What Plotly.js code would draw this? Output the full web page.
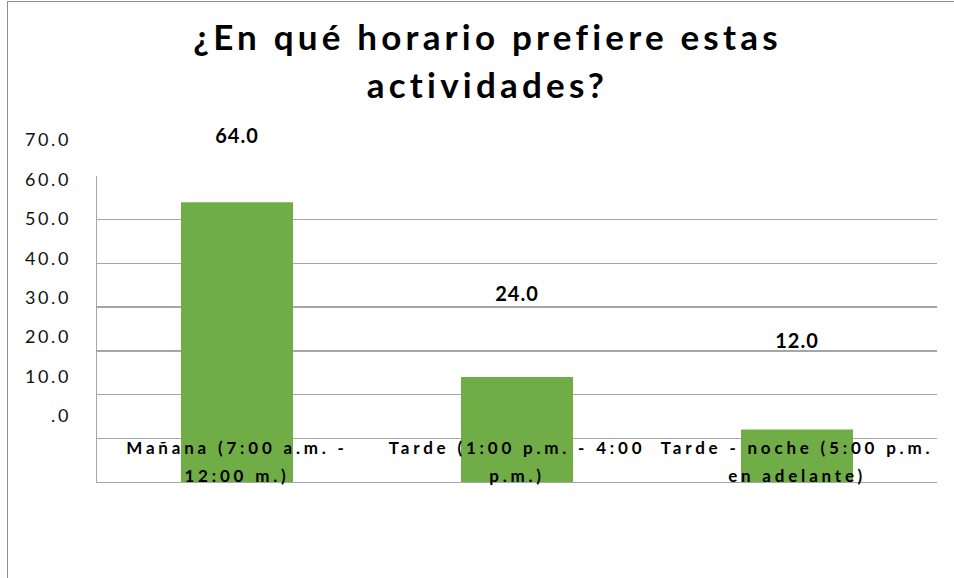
<!DOCTYPE html>
<html>
<head>
<meta charset="utf-8">
<script src="https://cdn.plot.ly/plotly-3.0.1.min.js"></script>
<style>
  html, body { margin: 0; padding: 0; background: #fff; }
  #wrap { position: relative; width: 954px; height: 578px; overflow: hidden; }
  #frame { position: absolute; left: 7px; top: 1px; width: 1000px; height: 700px;
           border-left: 1px solid #8f8f8f; border-top: 1px solid #8f8f8f; pointer-events: none; }
  #chart .gtitle { letter-spacing: 4.2px; }
  #chart .xtick text { letter-spacing: 3.8px; }
  #chart .y2tick text { letter-spacing: 2.6px; }
  #chart .textpoint text { letter-spacing: 1px; }
</style>
</head>
<body>
<div id="wrap">
  <div id="chart" style="width:954px;height:578px;"></div>
  <div id="frame"></div>
</div>
<script>
// ---- data ----
const categories = [
  "Mañana (7:00 a.m. - 12:00 m.)",
  "Tarde (1:00 p.m. - 4:00 p.m.)",
  "Tarde - noche (5:00 p.m. en adelante)"
];
const categoryLabels = [
  "Mañana (7:00 a.m. -<br>12:00 m.)",
  "Tarde (1:00 p.m. - 4:00<br>p.m.)",
  "Tarde - noche (5:00 p.m.<br>en adelante)"
];
const values = [64.0, 24.0, 12.0];
const tickValues = [0, 10, 20, 30, 40, 50, 60, 70];
const tickLabels = [".0", "10.0", "20.0", "30.0", "40.0", "50.0", "60.0", "70.0"];
const titleText = "¿En qué horario prefiere estas<br>actividades?";

const FONT = "Lato, 'Open Sans', 'DejaVu Sans', sans-serif";

const traces = [
  {
    type: "bar",
    x: categories,
    y: values,
    xaxis: "x", yaxis: "y",
    marker: { color: "#70AD47" },
    hoverinfo: "skip"
  },
  {
    type: "scatter",
    mode: "markers",
    x: categories,
    y: values,
    xaxis: "x", yaxis: "y2",
    marker: { opacity: 0, size: 1 },
    hoverinfo: "skip",
    showlegend: false
  },
  {
    type: "scatter",
    mode: "text",
    x: categories,
    y: values,
    xaxis: "x", yaxis: "y3",
    text: values.map(v => v.toFixed(1)),
    textposition: "middle center",
    textfont: { family: FONT, size: 20, color: "#000", weight: "bold" },
    cliponaxis: false,
    hoverinfo: "skip",
    showlegend: false
  }
];

const layout = {
  width: 954, height: 578,
  margin: { l: 97, r: 17, t: 130, b: 96 },
  paper_bgcolor: "rgba(0,0,0,0)",
  plot_bgcolor: "rgba(0,0,0,0)",
  showlegend: false,
  bargap: 0.6,
  title: {
    text: titleText,
    font: { family: FONT, size: 35, color: "#000", weight: "bold" },
    x: 0.511, xanchor: "center",
    y: 1 - 50 / 578, yref: "container", yanchor: "top"
  },
  xaxis: {
    type: "category",
    domain: [0, 1],
    tickvals: categories,
    ticktext: categoryLabels,
    tickfont: { family: FONT, size: 17, color: "#000", weight: "bold" },
    ticks: "",
    ticklabelstandoff: -50,
    showgrid: false,
    zeroline: false,
    showline: true,
    linecolor: "#a6a6a6",
    linewidth: 1.3,
    fixedrange: true
  },
  yaxis: {
    domain: [0, 306 / 352],
    range: [0, 70],
    dtick: 10,
    showticklabels: false,
    ticks: "",
    showgrid: true,
    gridcolor: "#a6a6a6",
    gridwidth: 1.3,
    zeroline: false,
    showline: true,
    linecolor: "#a6a6a6",
    linewidth: 1.3,
    fixedrange: true
  },
  yaxis2: {
    domain: [0, 1],
    anchor: "x",
    side: "left",
    range: [-16.74, 72.54],
    tickvals: tickValues,
    ticktext: tickLabels,
    tickfont: { family: FONT, size: 18, color: "#111" },
    ticks: "",
    ticklabelstandoff: 25,
    showgrid: false,
    zeroline: false,
    showline: false,
    fixedrange: true
  },
  yaxis3: {
    domain: [0, 1],
    anchor: "x",
    range: [-23.39, 66.1],
    visible: false,
    fixedrange: true
  }
};

Plotly.newPlot("chart", traces, layout, { displayModeBar: false, staticPlot: true }).then(gd => {
  // Wider line spacing, as in the original
  gd.querySelectorAll(".xtick text tspan.line").forEach(t => {
    const dy = parseFloat(t.getAttribute("dy") || "0");
    if (dy > 0) t.setAttribute("dy", "28px");
  });
  gd.querySelectorAll(".gtitle tspan.line").forEach(t => {
    const dy = parseFloat(t.getAttribute("dy") || "0");
    if (dy > 0) t.setAttribute("dy", "48px");
  });
});
</script>
</body>
</html>
